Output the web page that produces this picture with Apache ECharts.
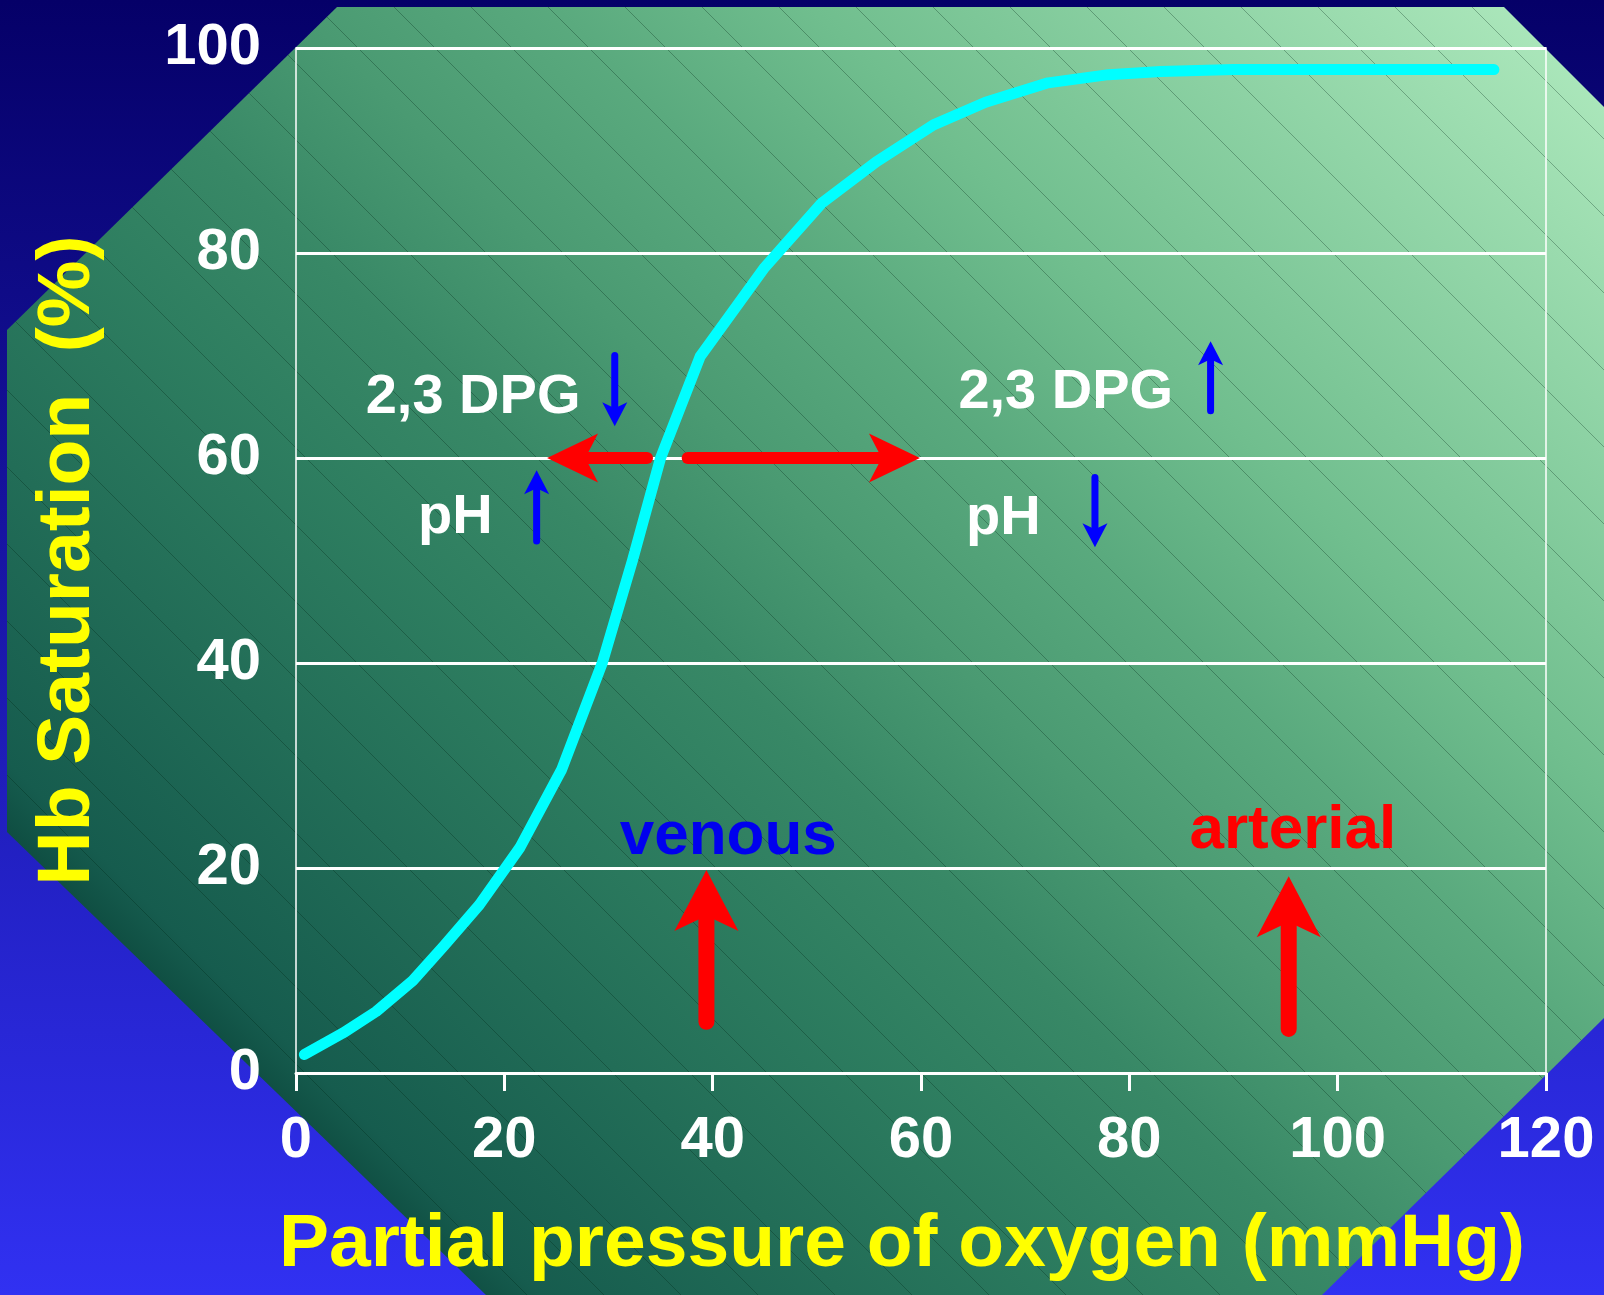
<!DOCTYPE html>
<html>
<head>
<meta charset="utf-8">
<title>Hb saturation curve</title>
<script src="https://cdn.jsdelivr.net/npm/echarts@6/dist/echarts.min.js"></script>
<style>
html, body { margin: 0; padding: 0; background: #14129a; }
#oxyCurve { width: 1604px; height: 1295px; }
</style>
</head>
<body>
<div id="oxyCurve"></div>
<script>
// oxygen dissociation curve
var po2 = [0.8, 4.5, 7.7, 11.2, 14.2, 17.6, 21.5, 25.5, 29.4, 32.3, 35.0, 38.8, 45.0, 50.5, 55.7, 61.2, 66.2, 72.2, 78.0, 83.0, 90.0, 115.0];
var hbSat = [1.8, 3.9, 6.0, 9.0, 12.4, 16.4, 22.0, 29.6, 40.0, 50.0, 60.0, 69.9, 78.6, 84.9, 88.9, 92.5, 94.7, 96.6, 97.4, 97.7, 97.9, 97.9];

// arrows: [x tail, y tail, x tip, y tip] in data units
var shiftArrows = [[33.7, 60, 24.1, 60], [37.6, 60, 59.9, 60]];
var siteArrows = [[39.4, 5.0, 39.4, 19.8], [95.3, 4.3, 95.3, 19.2]];
var changeArrows = [[30.6, 70.0, 30.6, 63.1], [23.1, 51.9, 23.1, 58.8], [87.8, 64.6, 87.8, 71.4], [76.7, 58.1, 76.7, 51.3]];

// annotation texts
var noteText = ['2,3 DPG', 'pH', '2,3 DPG', 'pH'];
var noteX = [17.0, 15.3, 73.9, 67.9];
var noteY = [65.9, 54.2, 66.4, 54.1];
var siteText = ['venous', 'arterial'];
var siteX = [41.5, 95.7];
var siteY = [23.0, 23.6];

var FONT = '"Liberation Sans", Arial, sans-serif';

// green slide panel behind the plot
var panel = [[337, 7], [1504, 7], [1604, 107], [1604, 1018], [1322, 1295], [486, 1295], [7, 832], [7, 330]];

function clipToPanel(p0, p1) {
    var n = panel.length, cx = 0, cy = 0;
    for (var i = 0; i < n; i++) { cx += panel[i][0] / n; cy += panel[i][1] / n; }
    var d = [p1[0] - p0[0], p1[1] - p0[1]];
    var t0 = 0, t1 = 1;
    for (var i = 0; i < n; i++) {
        var a = panel[i], b = panel[(i + 1) % n];
        var e = [b[0] - a[0], b[1] - a[1]];
        var s = (e[0] * (cy - a[1]) - e[1] * (cx - a[0])) > 0 ? 1 : -1;
        var f0 = s * (e[0] * (p0[1] - a[1]) - e[1] * (p0[0] - a[0]));
        var fd = s * (e[0] * d[1] - e[1] * d[0]);
        if (fd === 0) { if (f0 < 0) return null; continue; }
        var t = -f0 / fd;
        if (fd > 0) t0 = Math.max(t0, t); else t1 = Math.min(t1, t);
    }
    if (t0 >= t1) return null;
    return [p0[0] + d[0] * t0, p0[1] + d[1] * t0, p0[0] + d[0] * t1, p0[1] + d[1] * t1];
}

var bg = [{
    type: 'rect', z: -30, silent: true,
    shape: { x: 0, y: 0, width: 1604, height: 1295 },
    style: { fill: new echarts.graphic.LinearGradient(0, 0, 0, 1295, [
        { offset: 0, color: '#050068' }, { offset: 1, color: '#3131f2' }], true) }
}, {
    type: 'polygon', z: -20, silent: true,
    shape: { points: panel },
    style: { fill: new echarts.graphic.LinearGradient(0, 825, 1163, -338, [
        { offset: 0, color: '#0f4e42' },
        { offset: 0.03, color: '#165c4e' },
        { offset: 0.29, color: '#2e7e60' },
        { offset: 0.38, color: '#388866' },
        { offset: 0.48, color: '#4a9a72' },
        { offset: 0.59, color: '#5aaa7e' },
        { offset: 0.7, color: '#70be8e' },
        { offset: 1, color: '#aae6ba' }], true) }
}];

// thin diagonal band lines of the stepped gradient
var slope = 1.0;
for (var k = -16; k <= 18; k++) {
    var x0 = 533 + 77 * k;
    var seg = clipToPanel([x0 + (-100 - 300) / slope, -100], [x0 + (1400 - 300) / slope, 1400]);
    if (!seg) continue;
    bg.push({
        type: 'line', z: -10, silent: true,
        shape: { x1: seg[0], y1: seg[1], x2: seg[2], y2: seg[3] },
        style: { stroke: 'rgba(0,35,20,0.3)', lineWidth: 1 }
    });
}

function arrowSeries(data, color, width, headLen, headWidth) {
    return {
        type: 'custom',
        coordinateSystem: 'cartesian2d',
        data: data,
        encode: { x: [0, 2], y: [1, 3] },
        clip: false,
        silent: true,
        z: 4,
        renderItem: function (params, api) {
            var a = api.coord([api.value(0), api.value(1)]);
            var b = api.coord([api.value(2), api.value(3)]);
            var dx = b[0] - a[0], dy = b[1] - a[1];
            var len = Math.sqrt(dx * dx + dy * dy);
            var ux = dx / len, uy = dy / len, px = -uy, py = ux;
            var bx = b[0] - ux * headLen, by = b[1] - uy * headLen;
            var nx = b[0] - ux * headLen * 0.75, ny = b[1] - uy * headLen * 0.75;
            return {
                type: 'group',
                children: [{
                    type: 'line',
                    shape: { x1: a[0], y1: a[1], x2: nx, y2: ny },
                    style: { stroke: color, lineWidth: width, lineCap: 'round' }
                }, {
                    type: 'polygon',
                    shape: { points: [[b[0], b[1]], [bx + px * headWidth / 2, by + py * headWidth / 2], [nx, ny], [bx - px * headWidth / 2, by - py * headWidth / 2]] },
                    style: { fill: color }
                }]
            };
        }
    };
}

function textSeries(texts, xs, ys, colors, size) {
    return {
        type: 'custom',
        coordinateSystem: 'cartesian2d',
        data: xs.map(function (x, i) { return [x, ys[i]]; }),
        clip: false,
        silent: true,
        z: 5,
        renderItem: function (params, api) {
            var p = api.coord([api.value(0), api.value(1)]);
            return {
                type: 'text',
                x: p[0], y: p[1],
                style: {
                    text: texts[params.dataIndex],
                    fill: colors[params.dataIndex],
                    font: 'bold ' + size + 'px ' + FONT,
                    align: 'center', verticalAlign: 'middle',
                    textAlign: 'center', textVerticalAlign: 'middle'
                }
            };
        }
    };
}

var labelStyle = { color: '#ffffff', fontSize: 58, fontWeight: 'bold', fontFamily: FONT };
var titleStyle = { color: '#ffff00', fontSize: 75, fontWeight: 'bold', fontFamily: FONT };

var option = {
    backgroundColor: '#14129a',
    animation: false,
    graphic: bg,
    grid: { left: 296, right: 58, top: 48, bottom: 222, outerBoundsMode: 'none' },
    xAxis: {
        type: 'value', min: 0, max: 120, interval: 20,
        name: 'Partial pressure of oxygen (mmHg)',
        nameLocation: 'middle', nameGap: 135, nameMoveOverlap: false,
        nameTextStyle: Object.assign({ padding: [0, 38, 0, 0] }, titleStyle),
        axisLine: { lineStyle: { color: '#ffffff', width: 3 } },
        axisTick: { length: 18, lineStyle: { color: '#ffffff', width: 3 } },
        axisLabel: Object.assign({ margin: 39 }, labelStyle),
        splitLine: { show: false }
    },
    yAxis: [{
        type: 'value', min: 0, max: 100, interval: 20,
        name: 'Hb Saturation  (%)',
        nameLocation: 'middle', nameGap: 190, nameRotate: 90, nameMoveOverlap: false,
        nameTextStyle: titleStyle,
        axisLine: { show: true, lineStyle: { color: 'rgba(255,255,255,0.75)', width: 2 } },
        axisTick: { show: false },
        axisLabel: Object.assign({ margin: 35 }, labelStyle),
        splitLine: { lineStyle: { color: '#ffffff', width: 3 } }
    }, {
        type: 'value', min: 0, max: 100, interval: 20, position: 'right',
        axisLine: { show: true, lineStyle: { color: 'rgba(255,255,255,0.75)', width: 2 } },
        axisTick: { show: false },
        axisLabel: { show: false },
        splitLine: { show: false }
    }],
    series: [{
        type: 'line',
        data: po2.map(function (x, i) { return [x, hbSat[i]]; }),
        symbol: 'none',
        smooth: false,
        silent: true,
        z: 3,
        lineStyle: { color: '#00ffff', width: 11, cap: 'round', join: 'round' }
    },
        arrowSeries(shiftArrows, '#ff0000', 12, 51, 49),
        arrowSeries(siteArrows, '#ff0000', 16, 61, 64),
        arrowSeries(changeArrows, '#0000ff', 7, 24, 25),
        textSeries(noteText, noteX, noteY, ['#ffffff', '#ffffff', '#ffffff', '#ffffff'], 56),
        textSeries(siteText, siteX, siteY, ['#0000ee', '#ff0000'], 62)
    ]
};

var chart = echarts.init(document.getElementById('oxyCurve'));
chart.setOption(option);
</script>
</body>
</html>
